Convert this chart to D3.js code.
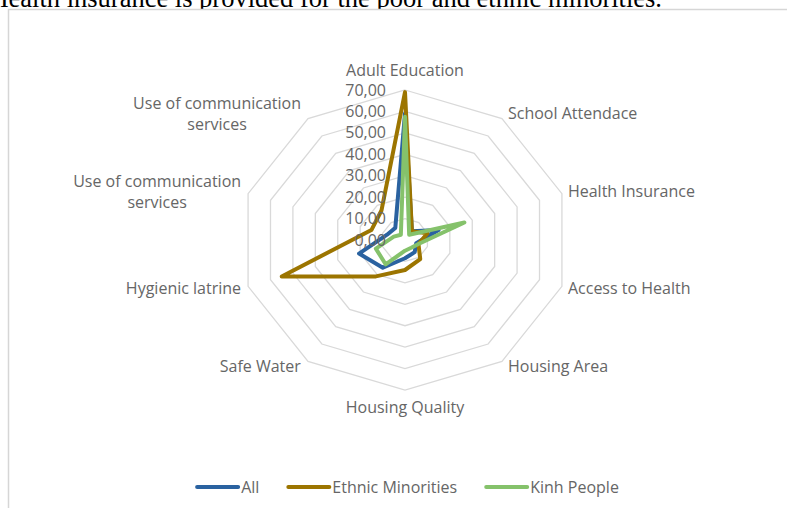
<!DOCTYPE html>
<html>
<head>
<meta charset="utf-8">
<script src="https://cdn.jsdelivr.net/npm/d3@7"></script>
<style>
  body { margin: 0; background: #fff; }
  svg { display: block; }
</style>
</head>
<body>
<div id="radarPlot"></div>
<script>
// data
let categories = ["Adult Education", "School Attendace", "Health Insurance", "Access to Health",
  "Housing Area", "Housing Quality", "Safe Water", "Hygienic latrine",
  "Use of communication services", "Use of communication services"];
let seriesNames = ["All", "Ethnic Minorities", "Kinh People"];
let allValues = [59, 5, 15, 5, 7, 8.5, 16, 20.5, 8, 7];
let ethnicValues = [69, 5, 10, 6, 11, 14, 21, 55, 15, 17];
let kinhValues = [57.5, 3, 26.5, 6, 4.5, 5, 14, 13, 5, 3];
let tickValues = [0, 10, 20, 30, 40, 50, 60, 70];
let tickLabels = ["0,00", "10,00", "20,00", "30,00", "40,00", "50,00", "60,00", "70,00"];

let seriesValues = [allValues, ethnicValues, kinhValues];
let colors = ["#2a62a0", "#9c7500", "#85c26b"];

// size
let width = 787, height = 508;
let cx = 405, cy = 240;
let labelColor = "#666";
let font = "'Open Sans', sans-serif";

let svg = d3.select("#radarPlot")
  .append("svg")
  .attr("width", width)
  .attr("height", height);

// cut off caption from the page above
svg.append("text")
  .attr("x", 662)
  .attr("y", 7)
  .attr("text-anchor", "end")
  .attr("font-family", "'Liberation Serif', serif")
  .attr("font-size", 26.5)
  .attr("fill", "#000")
  .text("Health insurance is provided for the poor and ethnic minorities.");

// chart frame
svg.append("rect")
  .attr("x", 8.5)
  .attr("y", 9.5)
  .attr("width", 820)
  .attr("height", 520)
  .attr("fill", "#fff")
  .attr("stroke", "#d6d6d6")
  .attr("stroke-width", 1.5);

// radial scales (picture is a bit wider than tall)
let rx = d3.scaleLinear().domain([0, 70]).range([0, 165]);
let ry = d3.scaleLinear().domain([0, 70]).range([0, 150]);
let angle = d3.scalePoint().domain(d3.range(categories.length + 1)).range([0, 2 * Math.PI]);

function px(i, v) { return cx + rx(v) * Math.sin(angle(i % categories.length)); }
function py(i, v) { return cy - ry(v) * Math.cos(angle(i % categories.length)); }

let g = svg.append("g");

// grid rings
tickValues.slice(1).forEach(function (t) {
  let ring = d3.range(categories.length).map(function (i) { return [px(i, t), py(i, t)]; });
  g.append("polygon")
    .attr("points", ring.map(function (p) { return p.join(","); }).join(" "))
    .attr("fill", "none")
    .attr("stroke", "#d9d9d9")
    .attr("stroke-width", 1.3);
});

// series lines
let line = d3.line()
  .x(function (d) { return px(d[0], d[1]); })
  .y(function (d) { return py(d[0], d[1]); })
  .curve(d3.curveLinearClosed);

seriesValues.forEach(function (vals, k) {
  g.append("path")
    .attr("d", line(vals.map(function (v, i) { return [i, v]; })))
    .attr("fill", "none")
    .attr("stroke", colors[k])
    .attr("stroke-width", 4)
    .attr("stroke-linejoin", "round");
});

// tick labels on the top axis
g.selectAll(".tick")
  .data(tickValues)
  .enter()
  .append("text")
  .attr("x", cx - 19)
  .attr("y", function (d) { return cy - ry(d); })
  .attr("dy", "0.35em")
  .attr("text-anchor", "end")
  .attr("font-family", font)
  .attr("font-size", 16)
  .attr("fill", labelColor)
  .text(function (d, i) { return tickLabels[i]; });

// category labels
let outer = tickValues[tickValues.length - 1];
categories.forEach(function (name, i) {
  let s = Math.sin(angle(i)), c = Math.cos(angle(i));
  let vx = px(i, outer), vy = py(i, outer);
  let words = name.length > 20 ? ["Use of communication", "services"] : [name];

  let t = g.append("text")
    .attr("font-family", font)
    .attr("font-size", 16)
    .attr("fill", labelColor)
    .attr("text-anchor", "middle");
  words.forEach(function (w, j) {
    t.append("tspan")
      .attr("x", 0)
      .attr("dy", j == 0 ? "0.35em" : "1.35em")
      .text(w);
  });

  let box = t.node().getBBox();
  let lineShift = (words.length - 1) * 21.6 / 2;
  let x, y;
  if (Math.abs(s) < 0.1) {
    x = vx;
    y = c > 0 ? vy - 20 : vy + 17;
  } else {
    x = s > 0 ? vx + 6 + box.width / 2 : vx - 7 - box.width / 2;
    y = vy - 6 * c;
  }
  t.attr("transform", "translate(" + x + "," + (y - lineShift) + ")");
});

// legend
let legend = svg.append("g");
let lx = 0, gap = 27;
seriesNames.forEach(function (name, k) {
  legend.append("line")
    .attr("x1", lx + 2)
    .attr("x2", lx + 43)
    .attr("y1", 487)
    .attr("y2", 487)
    .attr("stroke", colors[k])
    .attr("stroke-width", 4)
    .attr("stroke-linecap", "round");
  let t = legend.append("text")
    .attr("x", lx + 46)
    .attr("y", 487)
    .attr("dy", "0.35em")
    .attr("font-family", font)
    .attr("font-size", 16)
    .attr("fill", labelColor)
    .text(name);
  lx += 46 + t.node().getComputedTextLength() + gap;
});
let legendWidth = lx - gap;
legend.attr("transform", "translate(" + (cx + 2 - legendWidth / 2) + ",0)");
</script>
</body>
</html>
